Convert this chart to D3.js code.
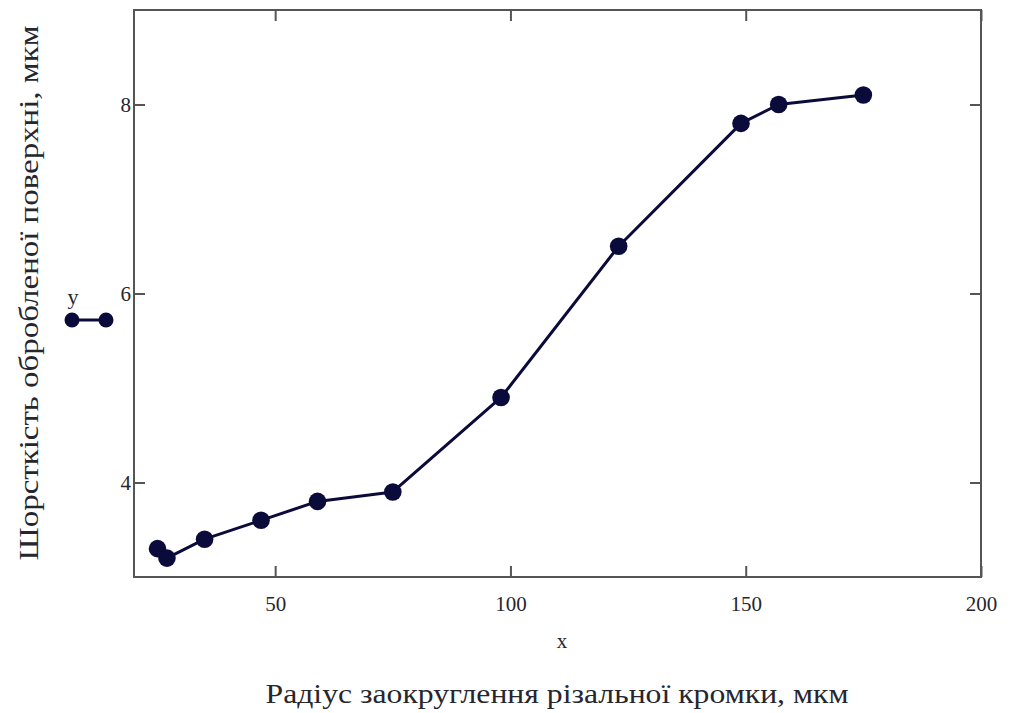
<!DOCTYPE html>
<html>
<head>
<meta charset="utf-8">
<script src="https://cdn.jsdelivr.net/npm/d3@7"></script>
<style>
  html, body { margin: 0; padding: 0; background: #fff; }
  svg { display: block; }
  text { font-family: "Liberation Serif", "DejaVu Serif", serif; fill: #26262e; }
</style>
</head>
<body>
<svg id="chart" width="1011" height="713"></svg>
<script>
// Edge radius (µm) vs. surface roughness (µm)
const radius = [25, 27, 35, 47, 59, 75, 98, 123, 149, 157, 175];
const roughness = [3.3, 3.2, 3.4, 3.6, 3.8, 3.9, 4.9, 6.5, 7.8, 8.0, 8.1];
const xTicks = [50, 100, 150, 200];
const yTicks = [4, 6, 8];
const xDomain = [20, 200];
const yDomain = [3, 9];
const xVarName = "x";
const yVarName = "y";
const xTitle = "Радіус заокруглення різальної кромки, мкм";
const yTitle = "Шорсткість обробленої поверхні, мкм";

const svg = d3.select("#chart");
const plot = { left: 134, top: 10, right: 981, bottom: 577 };
const ink = "#0b0b3b";
const frameColor = "#555";

const x = d3.scaleLinear().domain(xDomain).range([plot.left, plot.right]);
const y = d3.scaleLinear().domain(yDomain).range([plot.bottom, plot.top]);

// Frame
svg.append("rect")
  .attr("x", plot.left).attr("y", plot.top)
  .attr("width", plot.right - plot.left).attr("height", plot.bottom - plot.top)
  .attr("fill", "none").attr("stroke", frameColor).attr("stroke-width", 2);

const tickLen = 11;
function styleAxis(g) {
  g.select(".domain").remove();
  g.selectAll(".tick line").attr("stroke", frameColor).attr("stroke-width", 2);
  g.selectAll(".tick text")
    .style("font-size", "21px").style("fill", "#26262e");
}

// Bottom axis: ticks pointing inward, labels below
svg.append("g").attr("transform", `translate(0,${plot.bottom})`)
  .call(d3.axisBottom(x).tickValues(xTicks).tickSize(-tickLen).tickPadding(19).tickFormat(d3.format("d")))
  .call(styleAxis);
// Top axis: inward ticks only
svg.append("g").attr("transform", `translate(0,${plot.top})`)
  .call(d3.axisTop(x).tickValues(xTicks).tickSize(-tickLen).tickFormat(""))
  .call(styleAxis);
// Left axis: inward ticks, labels to the left
svg.append("g").attr("transform", `translate(${plot.left},0)`)
  .call(d3.axisLeft(y).tickValues(yTicks).tickSize(-tickLen).tickPadding(3).tickFormat(d3.format("d")))
  .call(styleAxis);
// Right axis: inward ticks only
svg.append("g").attr("transform", `translate(${plot.right},0)`)
  .call(d3.axisRight(y).tickValues(yTicks).tickSize(-tickLen).tickFormat(""))
  .call(styleAxis);

// Series line and markers
const pts = radius.map((r, i) => [r, roughness[i]]);
svg.append("path")
  .datum(pts)
  .attr("fill", "none").attr("stroke", ink).attr("stroke-width", 3)
  .attr("stroke-linejoin", "round")
  .attr("d", d3.line().x(d => x(d[0])).y(d => y(d[1])));

svg.append("g").selectAll("circle")
  .data(pts).join("circle")
  .attr("cx", d => x(d[0])).attr("cy", d => y(d[1]))
  .attr("r", 8.8).attr("fill", ink);

// Trace legend beside the y axis
const leg = svg.append("g");
leg.append("text").attr("x", 73).attr("y", 304)
  .attr("text-anchor", "middle").style("font-size", "22px").text(yVarName);
leg.append("line").attr("x1", 72).attr("x2", 106).attr("y1", 320).attr("y2", 320)
  .attr("stroke", ink).attr("stroke-width", 3);
[72, 106].forEach(cx => leg.append("circle").attr("cx", cx).attr("cy", 320).attr("r", 7.5).attr("fill", ink));

// Axis variable name and titles
svg.append("text").attr("x", 562).attr("y", 648)
  .attr("text-anchor", "middle").style("font-size", "21px").text(xVarName);

svg.append("text").attr("x", 557).attr("y", 703)
  .attr("text-anchor", "middle").style("font-size", "27px")
  .attr("textLength", 583).attr("lengthAdjust", "spacingAndGlyphs")
  .text(xTitle);

svg.append("text")
  .attr("transform", "translate(38,293) rotate(-90)")
  .attr("text-anchor", "middle").style("font-size", "28px")
  .attr("textLength", 535).attr("lengthAdjust", "spacingAndGlyphs")
  .text(yTitle);
</script>
</body>
</html>
